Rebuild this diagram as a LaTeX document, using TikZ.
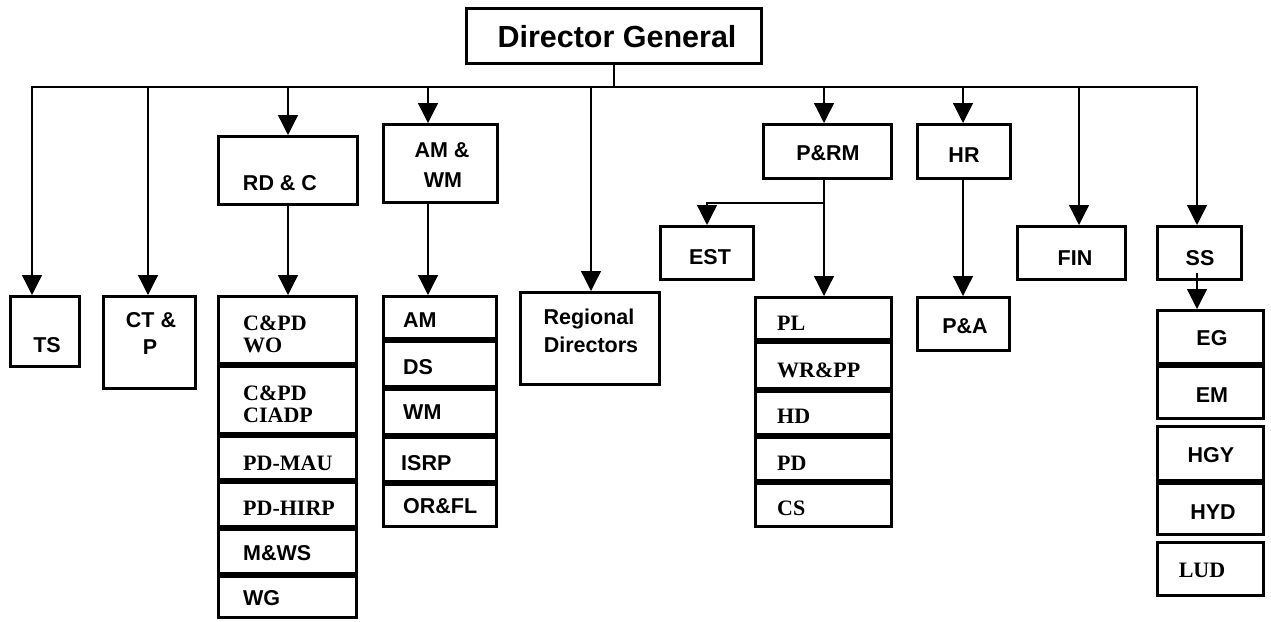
\documentclass[tikz,border=0pt]{standalone}
\usepackage{fontspec}
\setmainfont{Liberation Serif}
\newfontfamily\arialf{Liberation Sans}
\usetikzlibrary{arrows.meta}
\newcommand\mkbox[5]{\node[boxst,minimum width={#4-#2-3},minimum height={#5-#3-3}] (#1) at ({(#2+#4)/2},{(#3+#5)/2}) {};}
\begin{document}
\begin{tikzpicture}[x=1pt,y=-1pt,
 boxst/.style={draw,line width=3pt,inner sep=0pt,rectangle},
 sans/.style={font=\arialf\bfseries\fontsize{21.5}{22}\selectfont, inner sep=0pt, anchor=base},
 serif/.style={font=\bfseries\fontsize{22}{22}\selectfont, inner sep=0pt, anchor=base},
 lsans/.style={sans, anchor=base west},
 lserif/.style={serif, anchor=base west},
 conn/.style={line width=1.3pt},
 tipst/.style={-{Triangle[length=20pt,width=20pt]}},
 arr/.style={conn,tipst}]
\useasboundingbox (0,0) rectangle (1271,621);

% top-level boxes
\mkbox{dg}{465}{7}{763}{65}
\mkbox{ts}{9}{295}{81}{368}
\mkbox{ctp}{102}{295}{197}{390}
\mkbox{rdc}{217}{135}{359}{206}
\mkbox{amwm}{382}{123}{499}{204}
\mkbox{reg}{519}{291}{661}{386}
\mkbox{est}{659}{225}{755}{281}
\mkbox{prm}{762}{123}{893}{180}
\mkbox{hr}{916}{123}{1012}{180}
\mkbox{fin}{1016}{225}{1127}{281}
\mkbox{ss}{1156}{225}{1243}{281}
\mkbox{pa}{916}{296}{1011}{352}

% RD&C stack
\mkbox{r1}{217}{295}{358}{365}
\mkbox{r2}{217}{365}{358}{435}
\mkbox{r3}{217}{435}{358}{481}
\mkbox{r4}{217}{481}{358}{528}
\mkbox{r5}{217}{528}{358}{575}
\mkbox{r6}{217}{575}{358}{619}
% AM&WM stack
\mkbox{a1}{382}{295}{498}{340}
\mkbox{a2}{382}{340}{498}{388}
\mkbox{a3}{382}{388}{498}{436}
\mkbox{a4}{382}{436}{498}{483}
\mkbox{a5}{382}{483}{498}{528}
% P&RM stack
\mkbox{p1}{754}{296}{893}{341}
\mkbox{p2}{754}{341}{893}{390}
\mkbox{p3}{754}{390}{893}{436}
\mkbox{p4}{754}{436}{893}{482}
\mkbox{p5}{754}{482}{893}{528}
% SS stack
\mkbox{s1}{1156}{309}{1265}{365}
\mkbox{s2}{1156}{365}{1265}{420}
\mkbox{s3}{1156}{425}{1265}{482}
\mkbox{s4}{1156}{482}{1265}{536}
\mkbox{s5}{1156}{541}{1265}{597}

% texts
\node[sans,font=\arialf\bfseries\fontsize{30.5}{31}\selectfont] (tdg) at (617,47) {Director General};
\node[sans] (tts) at (47,352.5) {TS};
\node[sans] (tctp1) at (151,327.5) {CT \&};
\node[sans] (tctp2) at (150,354.5) {P};
\node[sans] (trdc) at (280,190.5) {RD \& C};
\node[sans] (tam1) at (442,157.5) {AM \&};
\node[sans] (tam2) at (443,187.5) {WM};
\node[sans] (treg1) at (589,324.5) {Regional};
\node[sans] (treg2) at (591,352.5) {Directors};
\node[sans] (test) at (710,264.5) {EST};
\node[sans] (tprm) at (828,160.5) {P\&RM};
\node[sans] (thr) at (964,162.5) {HR};
\node[sans] (tfin) at (1075,265.5) {FIN};
\node[sans] (tss) at (1200,265.5) {SS};
\node[sans] (tpa) at (965,333.5) {P\&A};
\node[sans] (tEG) at (1212,345.5) {EG};
\node[sans] (tEM) at (1212,402.5) {EM};
\node[sans] (tHGY) at (1211,462.5) {HGY};
\node[sans] (tHYD) at (1213,519.5) {HYD};
\node[serif] (tLUD) at (1202,577) {LUD};

\node[lserif] (tr1a) at (243,330) {C\&PD};
\node[lserif] (tr1b) at (243,352) {WO};
\node[lserif] (tr2a) at (243,400) {C\&PD};
\node[lserif] (tr2b) at (243,422) {CIADP};
\node[lserif] (tr3) at (243,470) {PD-MAU};
\node[lserif] (tr4) at (243,515) {PD-HIRP};
\node[lsans] (tr5) at (243,560.5) {M\&WS};
\node[lsans] (tr6) at (243,605.5) {WG};

\node[lsans] (ta1) at (403,327.5) {AM};
\node[lsans] (ta2) at (403,374.5) {DS};
\node[lsans] (ta3) at (403,419.5) {WM};
\node[lsans] (ta4) at (401,470.5) {ISRP};
\node[lsans] (ta5) at (403,513.5) {OR\&FL};

\node[lserif] (tp1) at (777,330) {PL};
\node[lserif] (tp2) at (777,377) {WR\&PP};
\node[lserif] (tp3) at (777,423) {HD};
\node[lserif] (tp4) at (777,470) {PD};
\node[lserif] (tp5) at (777,515) {CS};

% bus coordinates
\coordinate (bus) at (614,87);
\coordinate (bTS) at (32,87);
\coordinate (bCTP) at (148,87);
\coordinate (bRDC) at (288,87);
\coordinate (bAM) at (428,87);
\coordinate (bREG) at (591,87);
\coordinate (bPRM) at (824,87);
\coordinate (bHR) at (963,87);
\coordinate (bFIN) at (1079,87);
\coordinate (bSS) at (1197,87);
\coordinate (estj) at (824,203);
\coordinate (ssj) at (1197,273);

% connectors
\draw[conn] (dg.south) -- (bus);
\draw[conn,{Triangle[length=20pt,width=20pt]}-{Triangle[length=20pt,width=20pt]}]
  (bTS |- ts.north) -- (bTS) -- (bSS) -- (bSS |- ss.north);
\draw[arr] (bCTP) -- (bCTP |- ctp.north);
\draw[arr] (bRDC) -- (bRDC |- rdc.north);
\draw[arr] (bAM) -- (bAM |- amwm.north);
\draw[arr] (bREG) -- (bREG |- reg.north);
\draw[arr] (bPRM) -- (bPRM |- prm.north);
\draw[arr] (bHR) -- (bHR |- hr.north);
\draw[arr] (bFIN) -- (bFIN |- fin.north);

\draw[arr] (rdc.south -| bRDC) -- (bRDC |- r1.north);
\draw[arr] (amwm.south -| bAM) -- (bAM |- a1.north);
\draw[arr] (prm.south -| bPRM) -- (bPRM |- p1.north);
\draw[arr] (estj) -| (est.north -| 707,0);
\draw[arr] (hr.south -| bHR) -- (bHR |- pa.north);
\draw[arr] (ssj) -- (bSS |- s1.north);
\end{tikzpicture}
\end{document}
